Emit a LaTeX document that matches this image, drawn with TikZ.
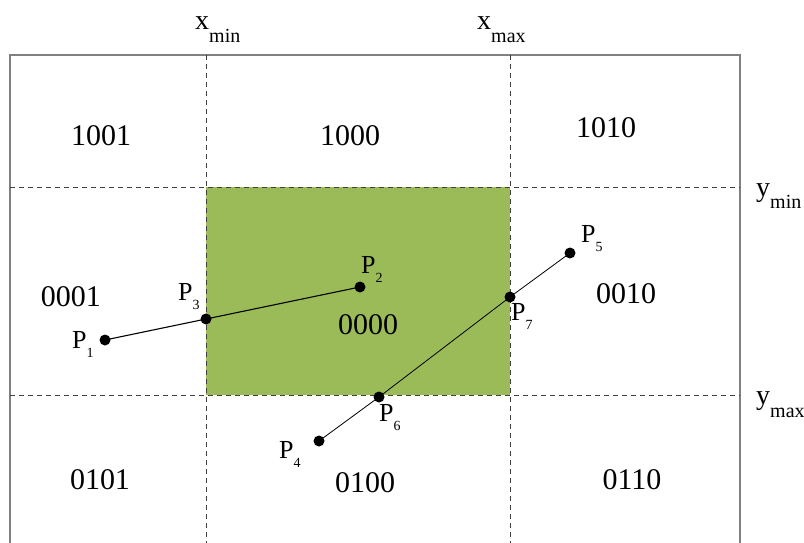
\documentclass[tikz,border=0pt]{standalone}
\usepackage{fontspec}
\setmainfont{Liberation Serif}
\definecolor{inside}{RGB}{155,187,89}
\definecolor{frame}{RGB}{128,128,128}
\definecolor{guide}{RGB}{64,64,64}
% point label: P with a lowered index
\newcommand{\plbl}[1]{P\raisebox{-9pt}{\fontsize{14}{14}\selectfont #1}}
% boundary label: x_min, y_max ...
\newcommand{\blbl}[2]{#1\raisebox{-13pt}{\fontsize{20}{20}\selectfont #2}}
\begin{document}
\begin{tikzpicture}[
        x=1pt, y=-1pt,
        dot/.style={circle, fill=black, inner sep=0pt, minimum size=11pt},
        code/.style={anchor=base, inner sep=0pt, font=\fontsize{30}{30}\selectfont},
        plabel/.style={anchor=base west, inner sep=0pt, font=\fontsize{26}{26}\selectfont},
        blabel/.style={anchor=base west, inner sep=0pt, font=\fontsize{28}{28}\selectfont},
        guide line/.style={draw=guide, line width=0.9pt, dash pattern=on 5pt off 4pt},
        clip line/.style={draw=black, line width=1.1pt},
    ]
    \useasboundingbox (0,0) rectangle (804,543);

    % window
    \coordinate (wtl) at (206,187);
    \coordinate (wbr) at (510,395);
    \fill[inside] (wtl) rectangle (wbr);

    % outer frame, open at the bottom
    \coordinate (ftl) at (10,55);
    \coordinate (ftr) at (740,55);
    \coordinate (fbl) at (10,545);
    \coordinate (fbr) at (740,545);
    \draw[frame, line width=1.5pt] (fbl) -- (ftl) -- (ftr) -- (fbr);

    % boundary lines
    \coordinate (xmint) at (206,55);
    \coordinate (xminb) at (206,545);
    \coordinate (xmaxt) at (510,55);
    \coordinate (xmaxb) at (510,545);
    \coordinate (ymini) at (10,187);
    \coordinate (ymino) at (740,187);
    \coordinate (ymaxi) at (10,395);
    \coordinate (ymaxo) at (740,395);
    \draw[guide line] (xmint) -- (xminb);
    \draw[guide line] (xmaxt) -- (xmaxb);
    \draw[guide line] (ymini) -- (ymino);
    \draw[guide line] (ymaxi) -- (ymaxo);

    \node[blabel] (xmin) at (195,30) {\blbl{x}{min}};
    \node[blabel] (xmax) at (477,30) {\blbl{x}{max}};
    \node[blabel] (ymin) at (756,196) {\blbl{y}{min}};
    \node[blabel] (ymax) at (756,404) {\blbl{y}{max}};

    % region codes
    \node[code] (c1001) at (101,146) {1001};
    \node[code] (c1000) at (350,146) {1000};
    \node[code] (c1010) at (606,138) {1010};
    \node[code] (c0001) at (71,306) {0001};
    \node[code] (c0000) at (368,334) {0000};
    \node[code] (c0010) at (626,303) {0010};
    \node[code] (c0101) at (100,489) {0101};
    \node[code] (c0100) at (365,492) {0100};
    \node[code] (c0110) at (632,489) {0110};

    % segments
    \node[dot] (p1) at (105,340) {};
    \node[dot] (p2) at (360,287) {};
    \node[dot] (p3) at (206,319) {};
    \node[dot] (p4) at (319,441) {};
    \node[dot] (p5) at (570,253) {};
    \node[dot] (p6) at (379,397) {};
    \node[dot] (p7) at (510,297) {};
    \draw[clip line] (p1.center) -- (p3.center) -- (p2.center);
    \draw[clip line, line width=0.8pt] (p4.center) -- (p6.center) -- (p7.center) -- (p5.center);

    \node[plabel] (l1) at (72,348) {\plbl{1}};
    \node[plabel] (l2) at (361,273) {\plbl{2}};
    \node[plabel] (l3) at (178,300) {\plbl{3}};
    \node[plabel] (l4) at (279,458) {\plbl{4}};
    \node[plabel] (l5) at (581,242) {\plbl{5}};
    \node[plabel] (l6) at (379,421) {\plbl{6}};
    \node[plabel] (l7) at (511,320) {\plbl{7}};
\end{tikzpicture}
\end{document}
